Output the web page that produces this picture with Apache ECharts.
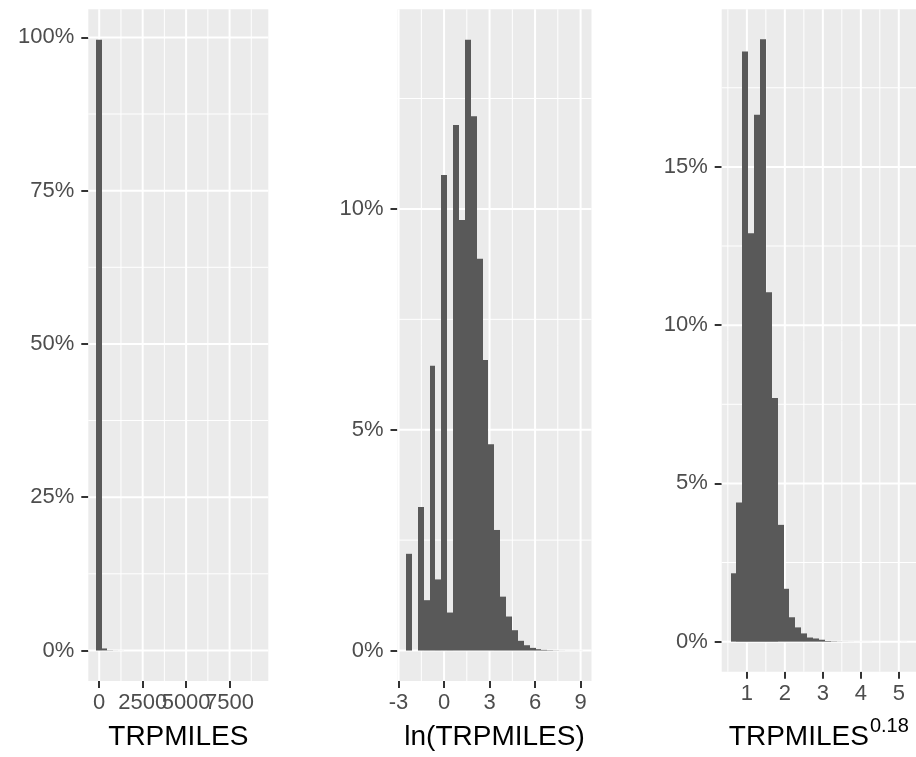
<!DOCTYPE html>
<html><head><meta charset="utf-8">
<script src="https://cdn.jsdelivr.net/npm/echarts@6/dist/echarts.min.js"></script>
<style>html,body{margin:0;padding:0;background:#fff}#c{width:916px;height:757px}</style>
</head><body><div id="c"></div>
<script>
// ---------- Panel 1: TRPMILES ----------
const milesBinLo = [-157, 157, 471, 784, 1098, 8943];
const milesBinHi = [157, 471, 784, 1098, 1412, 9257];
const milesPct   = [99.60, 0.33, 0.04, 0.015, 0.008, 0.001];
const milesXTicks = [0, 2500, 5000, 7500];
const milesXMinor = [1250, 3750, 6250, 8750];
const milesYTicks = [0, 25, 50, 75, 100];
const milesYMinor = [12.5, 37.5, 62.5, 87.5];

// ---------- Panel 2: ln(TRPMILES) ----------
const lnBinLo = [-2.505, -2.117, -1.729, -1.341, -0.953, -0.565, -0.177, 0.211, 0.599, 0.987,
                 1.375, 1.763, 2.151, 2.539, 2.927, 3.315, 3.703, 4.091, 4.479, 4.867,
                 5.255, 5.643, 6.031, 6.419, 6.807, 7.195, 7.583, 7.971, 8.359, 8.747];
const lnBinWidth = 0.388;
const lnPct = [2.19, 0, 3.25, 1.14, 6.45, 1.61, 10.77, 0.86, 11.90, 9.75,
               13.83, 12.10, 8.87, 6.58, 4.67, 2.73, 1.22, 0.77, 0.46, 0.22,
               0.12, 0.06, 0.03, 0.015, 0.008, 0.004, 0.002, 0.001, 0.001, 0.001];
const lnXTicks = [-3, 0, 3, 6, 9];
const lnXMinor = [-1.5, 1.5, 4.5, 7.5];
const lnYTicks = [0, 5, 10];
const lnYMinor = [2.5, 7.5, 12.5];

// ---------- Panel 3: TRPMILES^0.18 ----------
const powBinLo = [0.570, 0.725, 0.880, 1.035, 1.190, 1.345, 1.500, 1.655, 1.810, 1.965,
                  2.120, 2.275, 2.430, 2.585, 2.740, 2.895, 3.050, 3.205, 3.360, 3.515,
                  3.670, 3.825, 3.980, 4.135, 4.290, 4.445, 4.600, 4.755, 4.910, 5.065];
const powBinWidth = 0.155;
const powPct = [2.16, 4.40, 18.65, 12.90, 16.65, 19.03, 11.04, 7.70, 3.69, 1.67,
                0.77, 0.45, 0.26, 0.13, 0.10, 0.06, 0.02, 0.01, 0.005, 0.003,
                0.002, 0.001, 0.001, 0.001, 0, 0, 0, 0, 0, 0.001];
const powXTicks = [1, 2, 3, 4, 5];
const powXMinor = [0.5, 1.5, 2.5, 3.5, 4.5];
const powYTicks = [0, 5, 10, 15];
const powYMinor = [2.5, 7.5, 12.5, 17.5];

const FONT = 'Liberation Sans, Arial, sans-serif';
const BAR = '#595959';

const panels = [
  { grid: {left: 88.3, top: 9.3, width: 180, height: 671.7},
    xMin: -628, xMax: 9728, yMin: -4.98, yMax: 104.58,
    bars: milesBinLo.map((lo, i) => [lo, milesBinHi[i], milesPct[i]]),
    xT: milesXTicks, xM: milesXMinor, yT: milesYTicks, yM: milesYMinor,
    split: true,
    name: 'TRPMILES', nameGap: 42 },
  { grid: {left: 397.5, top: 9.3, width: 194, height: 671.7},
    xMin: -3.07, xMax: 9.72, yMin: -0.69, yMax: 14.52,
    bars: lnBinLo.map((lo, i) => [lo, lo + lnBinWidth, lnPct[i]]),
    xT: lnXTicks, xM: lnXMinor, yT: lnYTicks, yM: lnYMinor,
    name: 'ln(TRPMILES)', nameGap: 42 },
  { grid: {left: 721.7, top: 9.3, width: 194.3, height: 662.4},
    xMin: 0.3375, xMax: 5.4525, yMin: -0.95, yMax: 19.98,
    bars: powBinLo.map((lo, i) => [lo, lo + powBinWidth, powPct[i]]),
    xT: powXTicks, xM: powXMinor, yT: powYTicks, yM: powYMinor,
    name: '{t|TRPMILES}{s|0.18}', nameGap: 45, rich: true }
];

const grids = [], xAxes = [], yAxes = [], series = [];
const xLabelStyle = {show: true, margin: 11, color: '#4D4D4D', fontSize: 22,
  fontFamily: FONT, hideOverlap: false, formatter: v => String(v)};
const tickStyle = {show: true, length: 7, lineStyle: {color: '#333333', width: 2}};

panels.forEach((p, i) => {
  grids.push(Object.assign({show: true, backgroundColor: '#EBEBEB', borderWidth: 0,
    containLabel: false, outerBoundsMode: 'none'}, p.grid));
  const nameStyle = {fontSize: 28, fontFamily: FONT, color: '#000000'};
  if (p.rich) {
    nameStyle.rich = {
      t: {fontSize: 28, fontFamily: FONT, color: '#000000'},
      s: {fontSize: 20, fontFamily: FONT, color: '#000000', padding: [0, 0, 22, 1]}
    };
  }
  // overlapping tick labels (as in the original) are split over two stacked axes
  const mainVals = p.split ? p.xT.filter((v, k) => k % 2 === 0) : p.xT;
  const xIndex = xAxes.length;
  xAxes.push({
    gridIndex: i, type: 'value', min: p.xMin, max: p.xMax, position: 'bottom',
    axisLine: {show: false, onZero: false},
    axisTick: Object.assign({customValues: p.xT}, tickStyle),
    axisLabel: Object.assign({customValues: mainVals}, xLabelStyle),
    splitLine: {show: false},
    name: p.name, nameLocation: 'middle', nameGap: p.nameGap, nameTextStyle: nameStyle
  });
  if (p.split) {
    xAxes.push({
      gridIndex: i, type: 'value', min: p.xMin, max: p.xMax, position: 'bottom', offset: 0,
      axisLine: {show: false, onZero: false},
      axisTick: {show: false},
      axisLabel: Object.assign({customValues: p.xT.filter((v, k) => k % 2 === 1)}, xLabelStyle),
      splitLine: {show: false}
    });
  }
  yAxes.push({
    gridIndex: i, type: 'value', min: p.yMin, max: p.yMax,
    axisLine: {show: false, onZero: false},
    axisTick: Object.assign({customValues: p.yT}, tickStyle),
    axisLabel: {show: true, customValues: p.yT, margin: 14, color: '#4D4D4D', fontSize: 22, fontFamily: FONT,
      formatter: v => v + '%'},
    splitLine: {show: false}
  });
  // grid lines: [orientation (0 = vertical, 1 = horizontal), value, major flag]
  const lines = [];
  p.xM.forEach(v => lines.push([0, v, 0]));
  p.yM.forEach(v => lines.push([1, v, 0]));
  p.xT.forEach(v => lines.push([0, v, 1]));
  p.yT.forEach(v => lines.push([1, v, 1]));
  series.push({
    type: 'custom', xAxisIndex: xIndex, yAxisIndex: i, z: 1, silent: true,
    data: lines,
    renderItem: (params, api) => {
      const cs = params.coordSys;
      const o = api.value(0), v = api.value(1), major = api.value(2);
      const lw = major ? 2 : 1;
      if (o === 0) {
        const x = api.coord([v, 0])[0];
        return {type: 'line', shape: {x1: x, y1: cs.y, x2: x, y2: cs.y + cs.height},
          style: {stroke: '#FFFFFF', lineWidth: lw}};
      }
      const y = api.coord([0, v])[1];
      return {type: 'line', shape: {x1: cs.x, y1: y, x2: cs.x + cs.width, y2: y},
        style: {stroke: '#FFFFFF', lineWidth: lw}};
    }
  });
  series.push({
    type: 'custom', xAxisIndex: xIndex, yAxisIndex: i, z: 3, silent: true,
    data: p.bars, encode: {x: [0, 1], y: 2},
    renderItem: (params, api) => {
      const a = api.coord([api.value(0), api.value(2)]);
      const b = api.coord([api.value(1), 0]);
      const x0 = Math.round(a[0]), x1 = Math.round(b[0]);
      return {type: 'rect', shape: {x: x0, y: a[1], width: x1 - x0, height: b[1] - a[1]},
        style: {fill: BAR}};
    }
  });
});

const chart = echarts.init(document.getElementById('c'), null, {renderer: 'canvas'});
chart.setOption({animation: false, backgroundColor: '#FFFFFF',
  grid: grids, xAxis: xAxes, yAxis: yAxes, series: series});
</script></body></html>
